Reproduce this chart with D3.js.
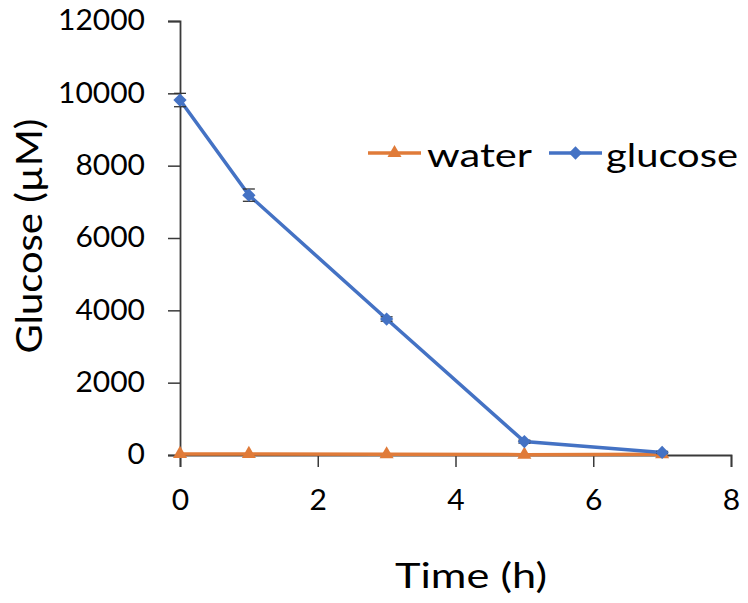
<!DOCTYPE html>
<html>
<head>
<meta charset="utf-8">
<script src="https://cdn.jsdelivr.net/npm/d3@7"></script>
<style>
  html, body { margin: 0; padding: 0; background: #fff; }
  svg { display: block; }
  text { font-family: Lato, "Open Sans", sans-serif; fill: #000; }
</style>
</head>
<body>
<svg id="chart" width="748" height="603"></svg>
<script>
// Sampling times (h)
const times = [0, 1, 3, 5, 7];
// Glucose concentration (µM) for each treatment
const waterValues = [30, 30, 20, 10, 20];
const glucoseValues = [9815, 7185, 3760, 370, 70];
// Standard error bars
const waterErrors = [0, 0, 0, 0, 0];
const glucoseErrors = [185, 170, 60, 40, 30];
// Axis ticks
const xTicks = [0, 2, 4, 6, 8];
const yTicks = [0, 2000, 4000, 6000, 8000, 10000, 12000];
const seriesNames = ["water", "glucose"];

const svg = d3.select("#chart");
const plotLeft = 180, plotRight = 731, plotTop = 21, plotBottom = 455;

const x = d3.scaleLinear().domain([0, 8]).range([plotLeft, plotRight]);
const y = d3.scaleLinear().domain([0, 12000]).range([plotBottom, plotTop]);

const axisColor = "#3a3a3a";
const digitWidth = 17.4;

// Y axis
const yAxis = svg.append("g")
  .attr("transform", `translate(${plotLeft},0)`)
  .call(d3.axisLeft(y).tickValues(yTicks).tickSize(12).tickPadding(23).tickFormat(d3.format("d")));
yAxis.select(".domain").attr("stroke", axisColor).attr("stroke-width", 1.8);
yAxis.selectAll(".tick line").attr("stroke", axisColor).attr("stroke-width", 1.5);
yAxis.selectAll(".tick text")
  .style("font-size", "28px").style("font-family", "Lato, sans-serif").attr("fill", "#000")
  .attr("textLength", function () { return this.textContent.length * digitWidth; })
  .attr("lengthAdjust", "spacingAndGlyphs");

// X axis
const xAxis = svg.append("g")
  .attr("transform", `translate(0,${plotBottom})`)
  .call(d3.axisBottom(x).tickValues(xTicks).tickSize(12).tickPadding(23).tickFormat(d3.format("d")));
xAxis.select(".domain").attr("stroke", axisColor).attr("stroke-width", 1.8);
xAxis.selectAll(".tick line").attr("stroke", axisColor).attr("stroke-width", 1.5);
xAxis.selectAll(".tick text")
  .style("font-size", "28px").style("font-family", "Lato, sans-serif").attr("fill", "#000")
  .attr("textLength", function () { return this.textContent.length * digitWidth; })
  .attr("lengthAdjust", "spacingAndGlyphs");

// Axis titles
svg.append("text")
  .attr("x", 471).attr("y", 588)
  .attr("text-anchor", "middle")
  .attr("textLength", 152).attr("lengthAdjust", "spacingAndGlyphs")
  .style("font-size", "35px")
  .text("Time (h)");

svg.append("text")
  .attr("transform", "translate(42,236) rotate(-90)")
  .attr("text-anchor", "middle")
  .attr("textLength", 235).attr("lengthAdjust", "spacingAndGlyphs")
  .style("font-size", "37px")
  .text("Glucose (µM)");

// Diamond drawn as a square turned 45 degrees
const diamondSym = {
  draw(context, size) {
    const r = Math.sqrt(size / 2);
    context.moveTo(0, -r);
    context.lineTo(r, 0);
    context.lineTo(0, r);
    context.lineTo(-r, 0);
    context.closePath();
  }
};

const series = [
  { name: seriesNames[0], values: waterValues, errors: waterErrors, color: "#E07B39", symbol: d3.symbolTriangle, size: 85 },
  { name: seriesNames[1], values: glucoseValues, errors: glucoseErrors, color: "#4472C4", symbol: diamondSym, size: 88 }
];

const line = d3.line().x(d => x(d.t)).y(d => y(d.v));

series.forEach(s => {
  const pts = times.map((t, i) => ({ t, v: s.values[i], e: s.errors[i] }));
  const g = svg.append("g");
  g.append("path")
    .datum(pts)
    .attr("d", line)
    .attr("fill", "none")
    .attr("stroke", s.color)
    .attr("stroke-width", 3.5);

  // error bars
  const eb = g.selectAll(".eb").data(pts.filter(p => p.e > 0)).enter().append("g");
  eb.append("line")
    .attr("x1", d => x(d.t)).attr("x2", d => x(d.t))
    .attr("y1", d => y(d.v + d.e)).attr("y2", d => y(d.v - d.e))
    .attr("stroke", "#333").attr("stroke-width", 1.3);
  [1, -1].forEach(sg => {
    eb.append("line")
      .attr("x1", d => x(d.t) - 6).attr("x2", d => x(d.t) + 6)
      .attr("y1", d => y(d.v + sg * d.e)).attr("y2", d => y(d.v + sg * d.e))
      .attr("stroke", "#333").attr("stroke-width", 1.3);
  });

  g.selectAll(".m").data(pts).enter().append("path")
    .attr("d", d3.symbol().type(s.symbol).size(s.size))
    .attr("transform", d => `translate(${x(d.t)},${y(d.v)})`)
    .attr("fill", s.color);
});

// Legend
const legendItems = [
  { s: series[0], lx: 368, tx: 427, w: 105 },
  { s: series[1], lx: 549, tx: 606, w: 132 }
];
const ly = 153;
legendItems.forEach(({ s, lx, tx, w }) => {
  svg.append("line")
    .attr("x1", lx).attr("x2", lx + 53)
    .attr("y1", ly).attr("y2", ly)
    .attr("stroke", s.color).attr("stroke-width", 3.5);
  svg.append("path")
    .attr("d", d3.symbol().type(s.symbol).size(s.size))
    .attr("transform", `translate(${lx + 26.5},${ly})`)
    .attr("fill", s.color);
  svg.append("text")
    .attr("x", tx).attr("y", ly + 13.5)
    .attr("textLength", w).attr("lengthAdjust", "spacingAndGlyphs")
    .style("font-size", "33px")
    .text(s.name);
});
</script>
</body>
</html>
